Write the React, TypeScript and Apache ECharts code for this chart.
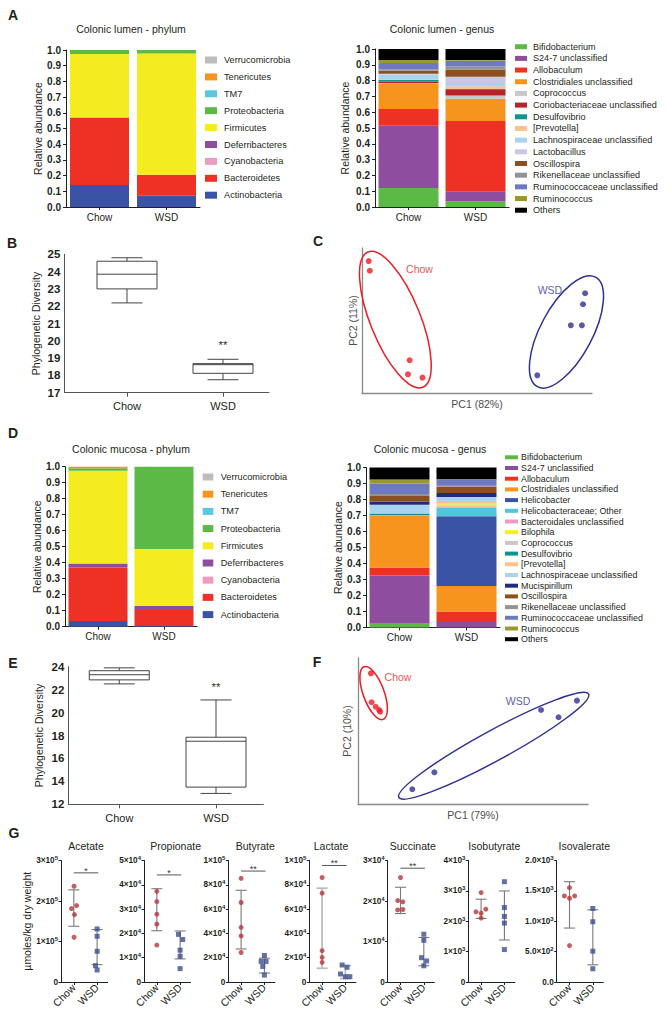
import React, { useEffect, useRef } from "react";
import * as echarts from "echarts";

const FONT = "'Liberation Sans', Arial, Helvetica, sans-serif";
const INK = "#231f20";

// ---------- groups ----------
const groups = ["Chow", "WSD"];

// ---------- A / D : phylum composition (stack order bottom -> top) ----------
const phyla = ["Actinobacteria", "Bacteroidetes", "Cyanobacteria", "Deferribacteres", "Firmicutes", "Proteobacteria", "TM7", "Tenericutes", "Verrucomicrobia"];
const lumenPhylumChow = [0.14, 0.43, 0, 0, 0.405, 0.025, 0, 0, 0];
const lumenPhylumWSD = [0.072, 0.133, 0, 0, 0.773, 0.022, 0, 0, 0];
const mucosaPhylumChow = [0.035, 0.335, 0, 0.025, 0.58, 0.015, 0, 0.01, 0];
const mucosaPhylumWSD = [0.005, 0.1, 0, 0.025, 0.355, 0.515, 0, 0, 0];

// ---------- A / D : genus composition (stack order bottom -> top) ----------
const lumenGenera = ["Bifidobacterium", "S24-7 unclassified", "Allobaculum", "Clostridiales unclassified", "Coprococcus", "Coriobacteriaceae unclassified", "Desulfovibrio", "[Prevotella]", "Lachnospiraceae unclassified", "Lactobacillus", "Oscillospira", "Rikenellaceae unclassified", "Ruminococcaceae unclassified", "Ruminococcus", "Others"];
const lumenGenusChow = [0.12, 0.395, 0.105, 0.16, 0.003, 0.01, 0.012, 0.003, 0.03, 0.005, 0.02, 0.008, 0.04, 0.02, 0.069];
const lumenGenusWSD = [0.035, 0.065, 0.445, 0.14, 0.02, 0.04, 0.002, 0.018, 0.02, 0.04, 0.045, 0.02, 0.035, 0.006, 0.069];

const mucosaGenera = ["Bifidobacterium", "S24-7 unclassified", "Allobaculum", "Clostridiales unclassified", "Helicobacter", "Helicobacteraceae; Other", "Bacteroidales unclassified", "Bilophila", "Coprococcus", "Desulfovibrio", "[Prevotella]", "Lachnospiraceae unclassified", "Mucispirillum", "Oscillospira", "Rikenellaceae unclassified", "Ruminococcaceae unclassified", "Ruminococcus", "Others"];
const mucosaGenusChow = [0.028, 0.297, 0.05, 0.325, 0, 0, 0, 0, 0.002, 0.01, 0, 0.055, 0.02, 0.035, 0.013, 0.065, 0.025, 0.075];
const mucosaGenusWSD = [0.002, 0.033, 0.065, 0.16, 0.435, 0.055, 0.008, 0.012, 0.005, 0, 0.015, 0.025, 0.025, 0.04, 0.01, 0.035, 0.002, 0.073];

// ---------- B / E : phylogenetic diversity [min, q1, median, q3, max] ----------
const pdLumenChow = [22.19, 23.0, 23.85, 24.6, 24.8];
const pdLumenWSD = [17.75, 18.12, 18.62, 18.68, 18.93];
const pdMucosaChow = [22.5, 22.85, 23.3, 23.65, 23.9];
const pdMucosaWSD = [12.95, 13.5, 17.5, 17.85, 21.1];
const pdLumenSig = 19.9;
const pdMucosaSig = 22.4;

// ---------- C / F : PCoA [PC1, PC2] ----------
const lumenPcaChow = [[2.9, 91.0], [3.4, 84.3], [20.7, 22.6], [20.0, 12.9], [26.3, 10.6]];
const lumenPcaWSD = [[97.0, 68.8], [96.1, 61.2], [90.8, 46.7], [95.6, 46.7], [76.2, 12.2]];
const mucosaPcaChow = [[5.6, 89.5], [5.9, 69.7], [7.7, 66.6], [9.2, 64.4], [9.6, 63.2]];
const mucosaPcaWSD = [[79.6, 64.4], [87.2, 59.4], [95.2, 70.8], [33.2, 21.7], [23.6, 10.1]];
const lumenEllipseCenters = [[14.5, 50.6], [88.9, 42.1]];
const mucosaEllipseCenters = [[6.8, 76.0], [59.0, 39.9]];
const lumenLabelAt = [[25.0, 85.3], [81.7, 71.0]];
const mucosaLabelAt = [[17.4, 86.8], [69.6, 70.5]];

// ---------- G : short-chain fatty acids ----------
const scfaNames = ["Acetate", "Propionate", "Butyrate", "Lactate", "Succinate", "Isobutyrate", "Isovalerate"];
const acetateChow = [236500, 188700, 181300, 166500, 110400];
const acetateWSD = [131000, 112900, 75800, 40400, 29700];
const propionateChow = [37300, 33100, 27900, 23800, 15200];
const propionateWSD = [19600, 17500, 13100, 10600, 5500];
const butyrateChow = [85300, 65400, 45000, 37900, 24300];
const butyrateWSD = [21800, 16900, 16900, 12800, 5700];
const lactateChow = [86000, 73100, 25800, 20300, 16200];
const lactateWSD = [14000, 12100, 6600, 4400, 4400];
const succinateChow = [25800, 20100, 19800, 17800, 17900];
const succinateWSD = [11800, 10300, 6000, 5200, 4000];
const isobutyrateChow = [2943, 2311, 2267, 2398, 2104];
const isobutyrateWSD = [3302, 2452, 2158, 1940, 1068];
const isovalerateChow = [1553, 1417, 1379, 1417, 599];
const isovalerateWSD = [1210, 992, 507, 218];
// error bar ranges [low, high]
const scfaChowBars = [[137600, 227500], [21100, 38400], [27200, 75500], [11300, 77200], [16900, 23400], [2093, 2725], [888, 1651]];
const scfaWSDBars = [[42900, 129400], [9500, 21000], [7400, 19600], [2800, 13500], [4000, 11000], [1384, 2997], [283, 1188]];
const scfaMax = [300000, 50000, 100000, 100000, 30000, 4000, 2000];
const scfaStep = [100000, 10000, 20000, 20000, 10000, 1000, 500];
const scfaTicks = [
  ["0", "1×10^5", "2×10^5", "3×10^5"],
  ["0", "1×10^4", "2×10^4", "3×10^4", "4×10^4", "5×10^4"],
  ["0", "2×10^4", "4×10^4", "6×10^4", "8×10^4", "1×10^5"],
  ["0", "2×10^4", "4×10^4", "6×10^4", "8×10^4", "1×10^5"],
  ["0", "1×10^4", "2×10^4", "3×10^4"],
  ["0", "1×10^3", "2×10^3", "3×10^3", "4×10^3"],
  ["0.0", "5.0×10^2", "1.0×10^3", "1.5×10^3", "2.0×10^3"],
];
const scfaSig = ["*", "*", "**", "**", "**", "", ""];
const scfaSigAt = [269500, 44060, 91300, 95900, 28100, 0, 0];

// ---------- styling (not data) ----------
const taxonColors: Record<string, string> = {
  Verrucomicrobia: "#bdbdbd",
  Tenericutes: "#f7941d",
  TM7: "#5bc8e0",
  Proteobacteria: "#5cb946",
  Firmicutes: "#f4ec1f",
  Deferribacteres: "#8e4d9e",
  Cyanobacteria: "#f09ac0",
  Bacteroidetes: "#ee3124",
  Actinobacteria: "#3a53a4",
  Bifidobacterium: "#5cb946",
  "S24-7 unclassified": "#8e4d9e",
  Allobaculum: "#ee3124",
  "Clostridiales unclassified": "#f7941d",
  Coprococcus: "#c8c8c8",
  "Coriobacteriaceae unclassified": "#b5232a",
  Desulfovibrio: "#0f9490",
  "[Prevotella]": "#fbc38a",
  "Lachnospiraceae unclassified": "#a8d4f0",
  Lactobacillus: "#c9c7e4",
  Oscillospira: "#8c4f20",
  "Rikenellaceae unclassified": "#939393",
  "Ruminococcaceae unclassified": "#6d79c0",
  Ruminococcus: "#9a9630",
  Others: "#000000",
  Helicobacter: "#3a53a4",
  "Helicobacteraceae; Other": "#4fc6d9",
  "Bacteroidales unclassified": "#f19ac3",
  Bilophila: "#f5ee1e",
  Mucispirillum: "#202c7a",
};
const PCA_RED = "#ed1c24";
const PCA_BLUE = "#2e3192";
const G_RED = "#b3373a";
const G_BLUE = "#3d4d8d";
// ellipse shape (px radii, rotation deg, anticlockwise positive)
const lumenEllipseShape = [{ rx: 25, ry: 73, rot: 22 }, { rx: 26, ry: 62, rot: -28 }];
const mucosaEllipseShape = [{ rx: 10.5, ry: 28, rot: 20 }, { rx: 108, ry: 15, rot: 28.6 }];
const chowJitter = [[0.01, 0.12, -0.1, 0.03, 0.01], [0, 0, 0, 0, 0], [0, 0, 0, 0, 0], [0, 0, 0, 0, 0], [0, -0.12, 0.1, -0.12, 0.1], [0, -0.22, 0, 0.2, 0], [0, -0.22, 0, 0.22, 0]];
const wsdJitter = [[0, 0, 0, -0.07, 0], [-0.07, 0.11, 0, 0, 0], [0, -0.14, 0.07, -0.07, 0], [-0.14, 0.07, -0.21, 0, 0.19], [0, 0, -0.1, 0.12, 0], [0, 0, 0, 0, 0], [0, 0, 0, 0]];

function sup(s: string) {
  return s.replace(/\^(\d+)/, "{s|$1}");
}

function buildOption() {
  const grid: any[] = [];
  const xAxis: any[] = [];
  const yAxis: any[] = [];
  const series: any[] = [];
  const graphic: any[] = [];

  const axisLine = { show: true, lineStyle: { color: INK, width: 1 } };
  const nameStyle = { color: INK, fontSize: 10.5, fontFamily: FONT };

  const textStyle = (text: string, size: number, weight: string, color: string, align: string, valign: string) => ({
    text,
    fill: color,
    font: `${weight} ${size}px ${FONT}`,
    align,
    verticalAlign: valign,
    textAlign: align,
    textVerticalAlign: valign,
  });

  const addText = (text: string, x: number, y: number, size: number, weight = "normal", color = INK) => {
    graphic.push({ type: "text", x, y, silent: true, style: textStyle(text, size, weight, color, "center", "middle") });
  };

  // text anchored to data coordinates (significance marks)
  const addDataText = (gi: number, text: string, x: number, y: number, size: number, valign: string, dy: number) => {
    series.push({
      type: "custom",
      xAxisIndex: gi,
      yAxisIndex: gi,
      clip: false,
      encode: { x: 0, y: 1 },
      data: [[x, y]],
      z: 4,
      renderItem: (params: any, api: any) => {
        const p = api.coord([api.value(0), api.value(1)]);
        return { type: "text", x: p[0], y: p[1] + dy, style: textStyle(text, size, "normal", "#333", "center", valign) };
      },
    });
  };

  // ---------- stacked composition bars ----------
  const addStack = (g: any, barWidth: number, taxa: string[], chow: number[], wsd: number[], nameGap: number) => {
    const gi = grid.length;
    grid.push(g);
    xAxis.push({
      gridIndex: gi,
      type: "category",
      data: groups,
      axisLine,
      axisTick: { show: true, alignWithLabel: true, length: 3, lineStyle: { color: INK } },
      axisLabel: { color: INK, fontSize: 10, fontFamily: FONT, margin: 5 },
    });
    yAxis.push({
      gridIndex: gi,
      type: "value",
      min: 0,
      max: 1,
      interval: 0.1,
      name: "Relative abundance",
      nameLocation: "middle",
      nameGap,
      nameTextStyle: nameStyle,
      axisLine,
      axisTick: { show: true, length: 3, lineStyle: { color: INK } },
      splitLine: { show: false },
      axisLabel: { formatter: (v: number) => v.toFixed(1), fontWeight: "bold", fontSize: 10, color: INK, fontFamily: FONT, margin: 5 },
    });
    taxa.forEach((t, i) => {
      series.push({
        type: "bar",
        name: t,
        xAxisIndex: gi,
        yAxisIndex: gi,
        stack: "st" + gi,
        barWidth,
        data: [chow[i], wsd[i]],
        itemStyle: { color: taxonColors[t] },
        emphasis: { disabled: true },
      });
    });
  };

  // legend drawn as swatch + label, one row per taxon name
  const addLegend = (names: string[], left: number, firstY: number, step: number, iw: number, ih: number, gap: number, fs: number) => {
    names.forEach((n, i) => {
      const y = firstY + i * step;
      graphic.push({ type: "rect", silent: true, shape: { x: left, y: y - ih / 2, width: iw, height: ih }, style: { fill: taxonColors[n] } });
      graphic.push({ type: "text", silent: true, x: left + iw + gap, y, style: textStyle(n, fs, "normal", INK, "left", "middle") });
    });
  };

  addStack({ left: 66, top: 50, width: 134, height: 157 }, 59, phyla, lumenPhylumChow, lumenPhylumWSD, 22);
  addLegend([...phyla].reverse(), 205, 60, 16.9, 12, 7, 7, 9.2);
  addStack({ left: 375, top: 49, width: 134, height: 158 }, 60, lumenGenera, lumenGenusChow, lumenGenusWSD, 25);
  addLegend(lumenGenera, 515, 46.7, 11.68, 12, 5, 6, 9.1);
  addStack({ left: 65, top: 466.7, width: 132, height: 160 }, 59, phyla, mucosaPhylumChow, mucosaPhylumWSD, 21);
  addLegend([...phyla].reverse(), 202.7, 477, 17.2, 10.6, 7, 7.4, 9.2);
  addStack({ left: 366, top: 467.5, width: 134, height: 160 }, 60, mucosaGenera, mucosaGenusChow, mucosaGenusWSD, 22.5);
  addLegend(mucosaGenera, 505, 457.3, 10.7, 13, 4, 3, 8.9);

  // ---------- box plots ----------
  const addBox = (g: any, xmin: number, xmax: number, ymin: number, ymax: number, step: number, chow: number[], wsd: number[], sigAt: number, nameGap: number, labelMargin: number) => {
    const gi = grid.length;
    grid.push(g);
    xAxis.push({
      gridIndex: gi,
      type: "value",
      min: xmin,
      max: xmax,
      axisLine: { show: true, lineStyle: { color: "#555" } },
      axisTick: { show: true, customValues: [1, 2], length: 4, lineStyle: { color: "#555" } },
      axisLabel: { customValues: [1, 2], formatter: (v: number) => (v === 1 ? groups[0] : v === 2 ? groups[1] : ""), fontSize: 11, color: INK, fontFamily: FONT, margin: labelMargin },
      splitLine: { show: false },
    });
    yAxis.push({
      gridIndex: gi,
      type: "value",
      min: ymin,
      max: ymax,
      interval: step,
      name: "Phylogenetic Diversity",
      nameLocation: "middle",
      nameGap,
      nameTextStyle: nameStyle,
      axisLine: { show: true, lineStyle: { color: "#555" } },
      axisTick: { show: false },
      splitLine: { show: false },
      axisLabel: { fontWeight: "bold", fontSize: 11.5, color: INK, fontFamily: FONT, margin: 4 },
    });
    series.push({
      type: "custom",
      xAxisIndex: gi,
      yAxisIndex: gi,
      clip: false,
      encode: { x: 0, y: [1, 2, 3, 4, 5] },
      data: [[1, ...chow], [2, ...wsd]],
      renderItem: (params: any, api: any) => {
        const x = api.value(0);
        const c = (k: number) => api.coord([x, api.value(k)]);
        const cx = c(1)[0];
        const yLo = c(1)[1], yQ1 = c(2)[1], yMed = c(3)[1], yQ3 = c(4)[1], yHi = c(5)[1];
        const hw = 30, cw = 15.5;
        const st = { stroke: "#444", lineWidth: 1, fill: "none" };
        return {
          type: "group",
          children: [
            { type: "line", shape: { x1: cx, y1: yHi, x2: cx, y2: yQ3 }, style: st },
            { type: "line", shape: { x1: cx, y1: yQ1, x2: cx, y2: yLo }, style: st },
            { type: "line", shape: { x1: cx - cw, y1: yHi, x2: cx + cw, y2: yHi }, style: st },
            { type: "line", shape: { x1: cx - cw, y1: yLo, x2: cx + cw, y2: yLo }, style: st },
            { type: "rect", shape: { x: cx - hw, y: yQ3, width: 2 * hw, height: yQ1 - yQ3 }, style: { stroke: "#444", lineWidth: 1, fill: "#fff" } },
            { type: "line", shape: { x1: cx - hw, y1: yMed, x2: cx + hw, y2: yMed }, style: st },
          ],
        };
      },
    });
    addDataText(gi, "**", 2, sigAt, 11.5, "middle", 2);
  };

  addBox({ left: 64.4, top: 254.3, width: 204.6, height: 138.4 }, 0.348, 2.479, 17, 25, 1, pdLumenChow, pdLumenWSD, pdLumenSig, 23, 8);
  addBox({ left: 68.3, top: 666.7, width: 195, height: 137.6 }, 0.473, 2.489, 12, 24, 2, pdMucosaChow, pdMucosaWSD, pdMucosaSig, 24, 8);

  // ---------- PCoA ----------
  const addPca = (g: any, pc1: string, pc2: string, chow: number[][], wsd: number[][], centers: number[][], shapes: any[], labelsAt: number[][], xGap: number, yGap: number) => {
    const gi = grid.length;
    grid.push(g);
    const pcaLine = { show: true, lineStyle: { color: "#8a8a8a", width: 1.3 } };
    const nm = { color: "#4d4d4d", fontSize: 10.5, fontFamily: FONT };
    xAxis.push({ gridIndex: gi, type: "value", min: 0, max: 100, name: pc1, nameLocation: "middle", nameGap: xGap, nameTextStyle: nm, axisLine: pcaLine, axisTick: { show: false }, axisLabel: { show: false }, splitLine: { show: false } });
    yAxis.push({ gridIndex: gi, type: "value", min: 0, max: 100, name: pc2, nameLocation: "middle", nameGap: yGap, nameTextStyle: nm, axisLine: pcaLine, axisTick: { show: false }, axisLabel: { show: false }, splitLine: { show: false } });
    const colors = [PCA_RED, PCA_BLUE];
    series.push({
      type: "custom",
      xAxisIndex: gi,
      yAxisIndex: gi,
      clip: false,
      encode: { x: 0, y: 1 },
      data: centers,
      renderItem: (params: any, api: any) => {
        const s = shapes[params.dataIndex];
        const p = api.coord([api.value(0), api.value(1)]);
        return {
          type: "ellipse",
          x: p[0],
          y: p[1],
          rotation: (s.rot * Math.PI) / 180,
          shape: { cx: 0, cy: 0, rx: s.rx, ry: s.ry },
          style: { fill: "none", stroke: colors[params.dataIndex], lineWidth: 1.5 },
        };
      },
    });
    series.push({ type: "scatter", xAxisIndex: gi, yAxisIndex: gi, symbolSize: 6, data: chow, itemStyle: { color: PCA_RED }, z: 3 });
    series.push({ type: "scatter", xAxisIndex: gi, yAxisIndex: gi, symbolSize: 6, data: wsd, itemStyle: { color: PCA_BLUE }, z: 3 });
    series.push({
      type: "scatter",
      xAxisIndex: gi,
      yAxisIndex: gi,
      symbolSize: 0,
      data: labelsAt.map((p, i) => ({ value: p, name: groups[i], label: { color: colors[i] } })),
      label: { show: true, position: "inside", formatter: "{b}", fontSize: 10.5, fontFamily: FONT },
    });
  };

  addPca({ left: 362, top: 248, width: 230, height: 145 }, "PC1 (82%)", "PC2 (11%)", lumenPcaChow, lumenPcaWSD, lumenEllipseCenters, lumenEllipseShape, lumenLabelAt, 5, 4);
  addPca({ left: 358, top: 658, width: 230, height: 146 }, "PC1 (79%)", "PC2 (10%)", mucosaPcaChow, mucosaPcaWSD, mucosaEllipseCenters, mucosaEllipseShape, mucosaLabelAt, 5, 6);

  // ---------- G ----------
  const scfaChow = [acetateChow, propionateChow, butyrateChow, lactateChow, succinateChow, isobutyrateChow, isovalerateChow];
  const scfaWSD = [acetateWSD, propionateWSD, butyrateWSD, lactateWSD, succinateWSD, isobutyrateWSD, isovalerateWSD];
  const gLefts = [61, 144, 228.3, 309.3, 387.7, 468.3, 556.7];
  const gTitleX = [86, 175.6, 255.3, 331, 412.7, 494.3, 584.3];

  scfaNames.forEach((nm, k) => {
    const gi = grid.length;
    grid.push({ left: gLefts[k], top: 860.5, width: 46.6, height: 121.5 });
    xAxis.push({
      gridIndex: gi,
      type: "value",
      min: 0.45,
      max: 2.45,
      axisLine: axisLine,
      axisTick: { show: true, customValues: [1, 2], length: 3, lineStyle: { color: INK } },
      axisLabel: { customValues: [1, 2], rotate: 45, formatter: (v: number) => (v === 1 ? groups[0] : v === 2 ? groups[1] : ""), fontSize: 10.5, color: INK, fontFamily: FONT, margin: 4 },
      splitLine: { show: false },
    });
    const ticks = scfaTicks[k];
    const step = scfaStep[k];
    yAxis.push({
      gridIndex: gi,
      type: "value",
      min: 0,
      max: scfaMax[k],
      interval: step,
      name: k === 0 ? "µmoles/kg dry weight" : "",
      nameLocation: "middle",
      nameGap: 27,
      nameTextStyle: nameStyle,
      axisLine: axisLine,
      axisTick: { show: true, length: 2.5, lineStyle: { color: INK } },
      splitLine: { show: false },
      axisLabel: {
        formatter: (v: number) => sup(ticks[Math.round(v / step)] || ""),
        fontWeight: "bold",
        fontSize: 8.2,
        lineHeight: 11,
        color: INK,
        fontFamily: FONT,
        margin: 3,
        rich: { s: { fontSize: 6, fontWeight: "bold", verticalAlign: "top", lineHeight: 7, color: INK, fontFamily: FONT } },
      },
    });
    const errColor = k === 3 ? "#bcbcbc" : "#7a7a7a";
    const errWidth = k === 3 ? 1.8 : 1.1;
    series.push({
      type: "custom",
      xAxisIndex: gi,
      yAxisIndex: gi,
      clip: false,
      encode: { x: 0, y: [1, 2] },
      data: [[1, ...scfaChowBars[k]], [2, ...scfaWSDBars[k]]],
      renderItem: (params: any, api: any) => {
        const x = api.value(0);
        const lo = api.coord([x, api.value(1)]);
        const hi = api.coord([x, api.value(2)]);
        const cw = 5.5;
        const st = { stroke: errColor, lineWidth: errWidth };
        return {
          type: "group",
          children: [
            { type: "line", shape: { x1: lo[0], y1: lo[1], x2: hi[0], y2: hi[1] }, style: st },
            { type: "line", shape: { x1: lo[0] - cw, y1: lo[1], x2: lo[0] + cw, y2: lo[1] }, style: st },
            { type: "line", shape: { x1: hi[0] - cw, y1: hi[1], x2: hi[0] + cw, y2: hi[1] }, style: st },
          ],
        };
      },
      z: 1,
    });
    series.push({
      type: "scatter",
      xAxisIndex: gi,
      yAxisIndex: gi,
      symbol: "circle",
      symbolSize: 5,
      data: scfaChow[k].map((v, i) => [1 + chowJitter[k][i], v]),
      itemStyle: { color: G_RED },
      z: 3,
    });
    series.push({
      type: "scatter",
      xAxisIndex: gi,
      yAxisIndex: gi,
      symbol: "rect",
      symbolSize: 5,
      data: scfaWSD[k].map((v, i) => [2 + wsdJitter[k][i], v]),
      itemStyle: { color: G_BLUE },
      z: 3,
    });
    if (scfaSig[k]) {
      series.push({
        type: "line",
        xAxisIndex: gi,
        yAxisIndex: gi,
        symbol: "none",
        data: [[1, scfaSigAt[k]], [2.05, scfaSigAt[k]]],
        lineStyle: { color: "#555", width: 1 },
        z: 2,
      });
      addDataText(gi, scfaSig[k], 1.52, scfaSigAt[k], 9, "bottom", 2.5);
    }
    addText(nm, gTitleX[k], 846, 10.5);
  });

  // ---------- panel letters and titles ----------
  addText("A", 13, 15, 14, "bold");
  addText("B", 12, 243, 14, "bold");
  addText("C", 318, 241, 14, "bold");
  addText("D", 13, 433, 14, "bold");
  addText("E", 13, 663, 14, "bold");
  addText("F", 317, 662, 14, "bold");
  addText("G", 14, 833, 14, "bold");
  addText("Colonic lumen - phylum", 131, 29, 10.5);
  addText("Colonic lumen - genus", 442, 29, 10.5);
  addText("Colonic mucosa - phylum", 131, 449, 10.5);
  addText("Colonic mucosa - genus", 430, 449, 10.5);

  return {
    animation: false,
    backgroundColor: "#ffffff",
    textStyle: { fontFamily: FONT },
    grid,
    xAxis,
    yAxis,
    series,
    graphic,
  };
}

export default function App() {
  const ref = useRef<HTMLDivElement>(null);
  useEffect(() => {
    if (!ref.current) return;
    const chart = echarts.init(ref.current, undefined, { renderer: "svg" });
    chart.setOption(buildOption() as any);
    return () => chart.dispose();
  }, []);
  return <div ref={ref} style={{ position: "absolute", left: 0, top: 0, width: 667, height: 1018, background: "#fff" }} />;
}
